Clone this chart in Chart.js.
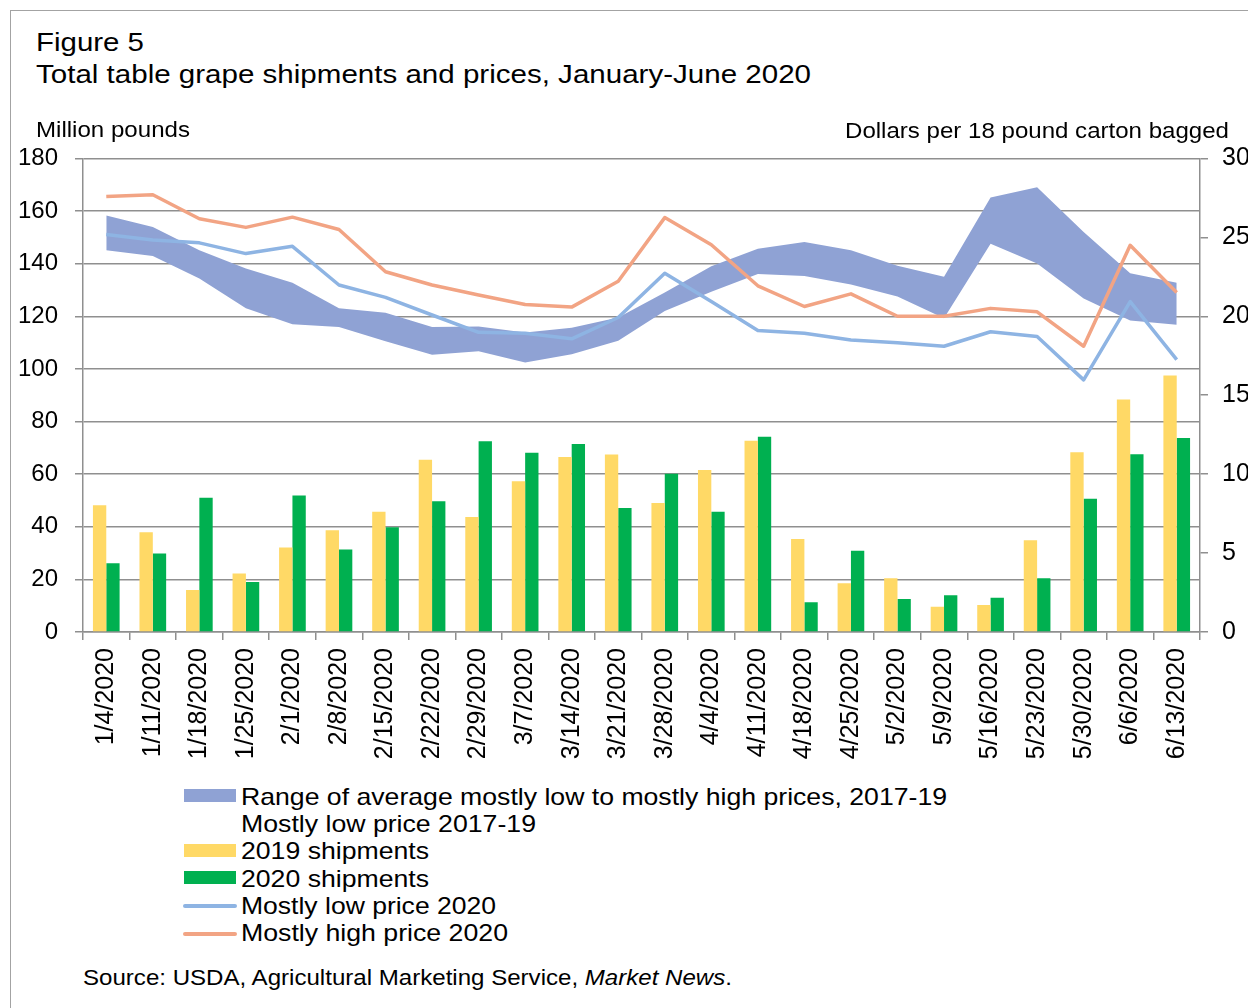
<!DOCTYPE html>
<html>
<head>
<meta charset="utf-8">
<script src="https://cdn.jsdelivr.net/npm/chart.js@4/dist/chart.umd.min.js"></script>
<style>
  body { margin: 0; background: #fff; overflow: hidden; }
  #page { position: relative; width: 1248px; height: 1008px; overflow: hidden; font-family: "Liberation Sans", Arial, sans-serif; color: #000; }
  #frame { position: absolute; left: 10px; top: 10px; width: 1400px; height: 1200px; border: 1.5px solid #a3a3a3; }
  .txt { position: absolute; white-space: nowrap; line-height: 1; transform-origin: 0 0; }
  #chartBox { position: absolute; left: 0; top: 127px; }
  .lgBox { position: absolute; left: 184px; width: 52px; height: 13px; }
  .lgLine { position: absolute; left: 183px; width: 54px; height: 4px; border-radius: 2px; }
</style>
</head>
<body>
<div id="page">
  <div id="frame"></div>
  <div class="txt" id="t1" style="left:36px;top:29px;font-size:26px">Figure 5</div>
  <div class="txt" id="t2" style="left:36px;top:61px;font-size:26px">Total table grape shipments and prices, January-June 2020</div>
  <canvas id="chartBox" width="1248" height="653"></canvas>
  <div class="txt" id="yl" style="left:36px;top:119px;font-size:22px">Million pounds</div>
  <div class="txt" id="yr" style="left:845px;top:120px;font-size:22px">Dollars per 18 pound carton bagged</div>
  <div id="legend"></div>
  <div class="txt" id="src" style="left:83px;top:967px;font-size:22.5px">Source: USDA, Agricultural Marketing Service, <i>Market News</i>.</div>
</div>
<script>
// week ending dates
const weeks = ['1/4/2020','1/11/2020','1/18/2020','1/25/2020','2/1/2020','2/8/2020','2/15/2020','2/22/2020',
  '2/29/2020','3/7/2020','3/14/2020','3/21/2020','3/28/2020','4/4/2020','4/11/2020','4/18/2020',
  '4/25/2020','5/2/2020','5/9/2020','5/16/2020','5/23/2020','5/30/2020','6/6/2020','6/13/2020'];

// shipments, million pounds
const ship2019 = [48.2,37.9,16.0,22.2,32.1,38.7,45.7,65.5,43.7,57.3,66.5,67.5,49.0,61.6,72.7,35.3,18.5,20.4,9.6,10.3,34.9,68.3,88.4,97.5];
const ship2020 = [26.1,29.8,51.0,19.0,51.9,31.4,39.8,49.7,72.5,68.1,71.5,47.1,60.1,45.7,74.2,11.3,30.9,12.5,14.0,13.0,20.4,50.6,67.6,73.7];

// prices, dollars per carton
const low1719 = [24.18,23.82,22.40,20.50,19.50,19.32,18.42,17.57,17.78,17.07,17.60,18.45,20.33,21.55,22.67,22.55,22.02,21.25,19.88,24.60,23.35,21.13,19.73,19.47];
const high1719 = [26.38,25.65,24.18,23.03,22.12,20.50,20.23,19.32,19.35,18.97,19.27,19.92,21.50,23.17,24.28,24.70,24.18,23.20,22.50,27.53,28.17,25.33,22.72,22.12];
const low2020 = [25.18,24.83,24.65,23.97,24.43,21.98,21.20,20.08,18.98,18.93,18.57,19.92,22.72,20.93,19.10,18.93,18.50,18.32,18.10,19.02,18.72,15.97,20.93,17.25];
const high2020 = [27.58,27.70,26.18,25.63,26.28,25.50,22.82,21.98,21.35,20.75,20.58,22.22,26.25,24.53,21.93,20.62,21.42,20.00,20.00,20.50,20.28,18.10,24.50,21.50];

const leftTicks = [0,20,40,60,80,100,120,140,160,180];
const rightTicks = [0,5,10,15,20,25,30];

const FONT = '"Liberation Sans", Arial, sans-serif';
const GRID = '#8f8f8f';

new Chart(document.getElementById('chartBox').getContext('2d'), {
  type: 'bar',
  data: {
    labels: weeks,
    datasets: [
      { type: 'line', label: 'Mostly low price 2017-19', data: low1719, yAxisID: 'y1',
        borderWidth: 0, pointRadius: 0, fill: false, order: 3 },
      { type: 'line', label: 'Range of average mostly low to mostly high prices, 2017-19', data: high1719, yAxisID: 'y1',
        borderWidth: 0, pointRadius: 0, fill: '-1', backgroundColor: '#8FA2D4', borderColor: '#8FA2D4', order: 3 },
      { label: '2019 shipments', data: ship2019, yAxisID: 'y', backgroundColor: '#FFD966', order: 4 },
      { label: '2020 shipments', data: ship2020, yAxisID: 'y', backgroundColor: '#00B050', order: 4 },
      { type: 'line', label: 'Mostly low price 2020', data: low2020, yAxisID: 'y1',
        borderColor: '#8EB4E3', borderWidth: 3.5, pointRadius: 0, tension: 0, fill: false, borderJoinStyle: 'round', order: 1 },
      { type: 'line', label: 'Mostly high price 2020', data: high2020, yAxisID: 'y1',
        borderColor: '#F2A484', borderWidth: 3.5, pointRadius: 0, tension: 0, fill: false, borderJoinStyle: 'round', order: 0 }
    ]
  },
  options: {
    responsive: false,
    animation: false,
    devicePixelRatio: 1,
    layout: { padding: { top: 4, bottom: 0, left: 0, right: 0 } },
    datasets: { bar: { barPercentage: 1, categoryPercentage: 0.573 } },
    scales: {
      x: {
        afterFit: s => { s.height = 148; },
        grid: { display: true, drawOnChartArea: false, drawTicks: true, tickLength: 8, color: GRID, lineWidth: 1.5, offset: true },
        border: { display: true, color: GRID, width: 1.5 },
        ticks: { autoSkip: false, minRotation: 90, maxRotation: 90, padding: 8, color: '#000', font: { family: FONT, size: 25 } }
      },
      y: {
        position: 'left', min: 0, max: 180,
        afterFit: s => { s.width = 83; },
        afterBuildTicks: s => { s.ticks = leftTicks.map(v => ({ value: v })); },
        grid: { color: GRID, lineWidth: 1.5, tickLength: 8 },
        border: { display: true, color: GRID, width: 1.5 },
        ticks: { padding: 17, color: '#000', font: { family: FONT, size: 24 } }
      },
      y1: {
        position: 'right', min: 0, max: 30,
        afterFit: s => { s.width = 48; },
        afterBuildTicks: s => { s.ticks = rightTicks.map(v => ({ value: v })); },
        grid: { drawOnChartArea: false, drawTicks: true, color: GRID, lineWidth: 1.5, tickLength: 8 },
        border: { display: true, color: GRID, width: 1.5 },
        ticks: { padding: 14, color: '#000', font: { family: FONT, size: 25 } }
      }
    },
    plugins: {
      legend: { display: false },
      tooltip: { enabled: false }
    }
  }
});

// legend, one entry per row
const legendItems = [
  { text: 'Range of average mostly low to mostly high prices, 2017-19', kind: 'box', color: '#8FA2D4', w: 705 },
  { text: 'Mostly low price 2017-19', kind: 'none', color: null, w: 294 },
  { text: '2019 shipments', kind: 'box', color: '#FFD966', w: 187 },
  { text: '2020 shipments', kind: 'box', color: '#00B050', w: 187 },
  { text: 'Mostly low price 2020', kind: 'line', color: '#8EB4E3', w: 254 },
  { text: 'Mostly high price 2020', kind: 'line', color: '#F2A484', w: 266 }
];
const lg = document.getElementById('legend');
legendItems.forEach((it, i) => {
  const base = 805 + i * 27.35;
  if (it.kind === 'box') {
    const b = document.createElement('div');
    b.className = 'lgBox';
    b.style.top = (base - 15.7) + 'px';
    b.style.background = it.color;
    lg.appendChild(b);
  } else if (it.kind === 'line') {
    const l = document.createElement('div');
    l.className = 'lgLine';
    l.style.top = (base - 10) + 'px';
    l.style.background = it.color;
    lg.appendChild(l);
  }
  const t = document.createElement('div');
  t.className = 'txt';
  t.style.left = '241px';
  t.style.top = (base - 20.3) + 'px';
  t.style.fontSize = '24px';
  t.textContent = it.text;
  t.dataset.w = it.w;
  lg.appendChild(t);
});

// stretch text horizontally to the widths measured on the figure
function fit(el, w) {
  const cur = el.getBoundingClientRect().width;
  el.style.transform = 'scaleX(' + (w / cur) + ')';
}
fit(document.getElementById('t1'), 108);
fit(document.getElementById('t2'), 775);
fit(document.getElementById('yl'), 154);
fit(document.getElementById('yr'), 384);
fit(document.getElementById('src'), 649);
lg.querySelectorAll('.txt').forEach(el => fit(el, +el.dataset.w + 1));
</script>
</body>
</html>
